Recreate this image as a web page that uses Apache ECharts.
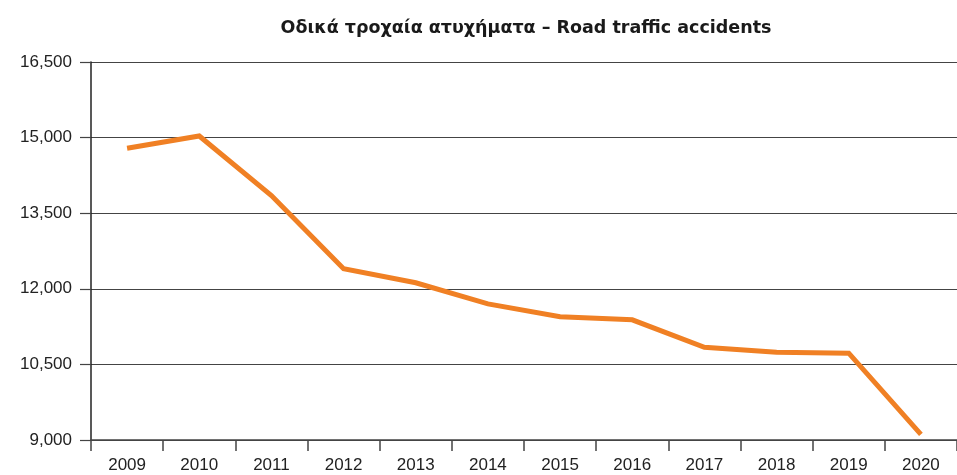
<!DOCTYPE html>
<html>
<head>
<meta charset="utf-8">
<script src="https://cdn.jsdelivr.net/npm/echarts@6/dist/echarts.min.js"></script>
<style>
  html, body { margin: 0; padding: 0; background: #ffffff; }
  #chart { width: 957px; height: 475px; }
</style>
</head>
<body>
<div id="chart"></div>
<script>
// Road traffic accidents per year
const years = ['2009', '2010', '2011', '2012', '2013', '2014', '2015', '2016', '2017', '2018', '2019', '2020'];
const accidents = [14789, 15032, 13849, 12398, 12120, 11700, 11445, 11385, 10840, 10740, 10722, 9110];
const yMin = 9000;
const yMax = 16500;
const yStep = 1500;

const chart = echarts.init(document.getElementById('chart'), null, { renderer: 'canvas' });

const fontFamily = '"Liberation Sans", Arial, Helvetica, sans-serif';

chart.setOption({
  animation: false,
  backgroundColor: '#ffffff',
  title: {
    text: 'Οδικά τροχαία ατυχήματα – Road traffic accidents',
    left: 521,
    top: 14,
    textAlign: 'center',
    textStyle: { fontFamily: '"DejaVu Sans", "Liberation Sans", sans-serif', fontSize: 17.5, fontWeight: 'bold', color: '#1a1a1a' }
  },
  grid: { left: 91, right: 0, top: 62, bottom: 35, containLabel: false },
  xAxis: {
    type: 'category',
    data: years,
    boundaryGap: true,
    axisLine: { lineStyle: { color: '#444', width: 1.5 } },
    axisTick: { show: true, length: 11, lineStyle: { color: '#444', width: 1.5 } },
    axisLabel: { fontFamily: fontFamily, fontSize: 17, color: '#222', margin: 17 },
    splitLine: { show: false }
  },
  yAxis: {
    type: 'value',
    min: yMin,
    max: yMax,
    interval: yStep,
    axisLine: { show: true, lineStyle: { color: '#222', width: 1.5 } },
    axisTick: { show: true, length: 11, lineStyle: { color: '#444', width: 1.2 } },
    axisLabel: {
      fontFamily: fontFamily, fontSize: 17, color: '#222', margin: 19,
      formatter: v => v.toLocaleString('en-US')
    },
    splitLine: { show: true, lineStyle: { color: '#444', width: 1.2 } }
  },
  series: [{
    type: 'line',
    data: accidents,
    symbol: 'none',
    lineStyle: { color: '#F08024', width: 5, cap: 'butt', join: 'miter' },
    itemStyle: { color: '#F08024' }
  }]
});
</script>
</body>
</html>
